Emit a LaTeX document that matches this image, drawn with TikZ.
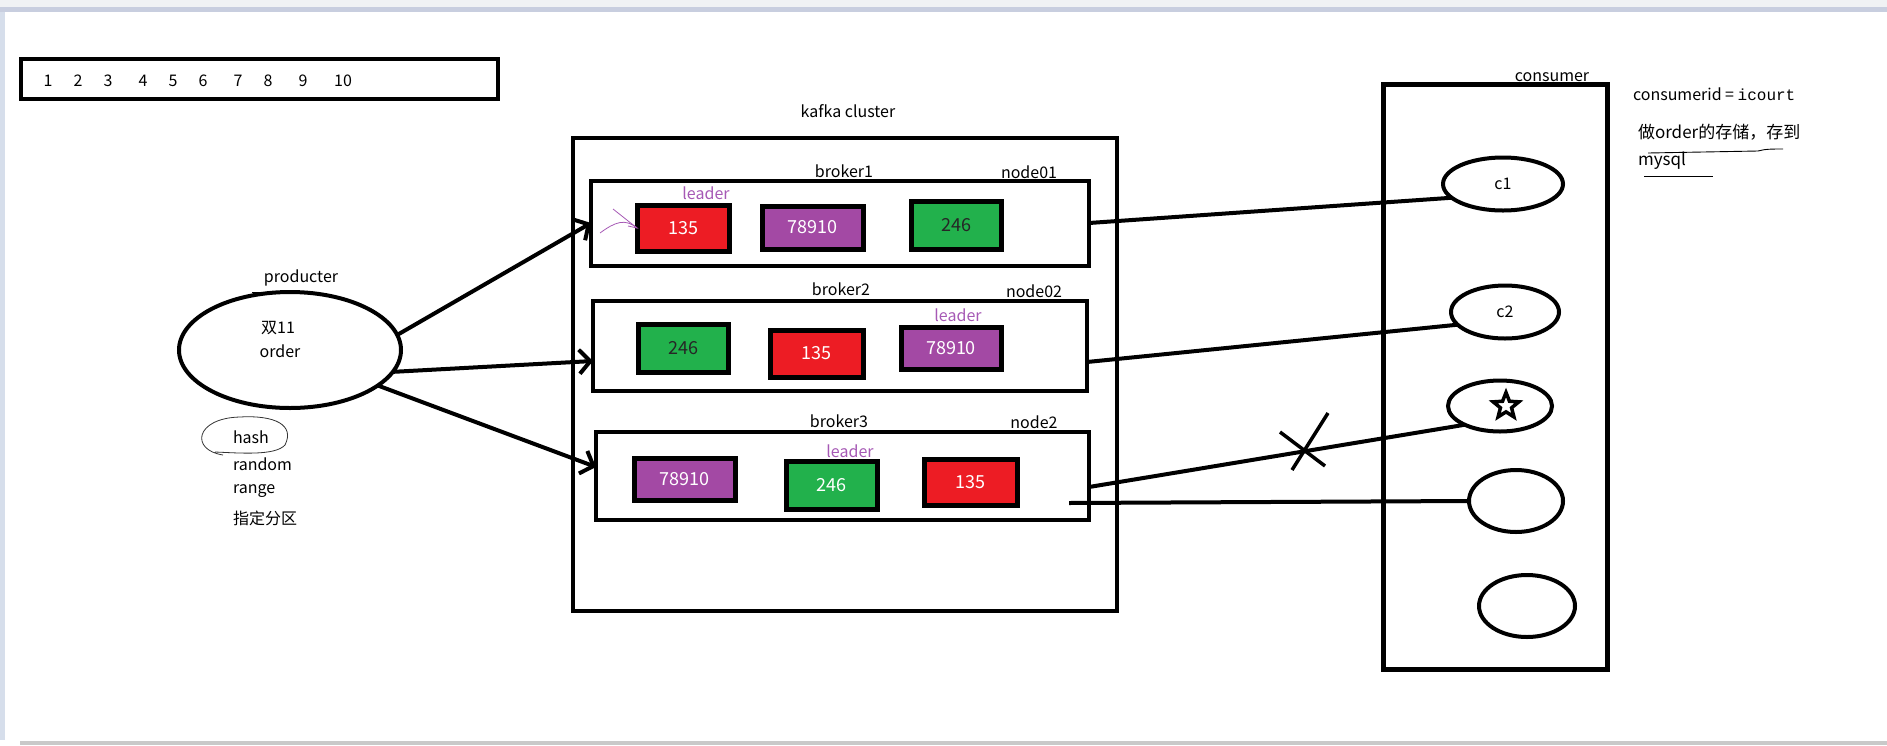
\documentclass[tikz,border=0pt]{standalone}
\usepackage{fontspec}
\setmainfont{Noto Sans CJK SC}
\newfontfamily\monof{Liberation Mono}
\usetikzlibrary{shapes.geometric,arrows.meta}
\definecolor{pred}{HTML}{ED1C24}
\definecolor{ppurple}{HTML}{A349A4}
\definecolor{pgreen}{HTML}{22B14C}
\definecolor{leadc}{HTML}{A659B5}
\definecolor{tbar}{HTML}{F0F2F4}
\definecolor{tband}{HTML}{C8CEDF}
\definecolor{lband}{HTML}{D6DEEB}
\definecolor{bband}{HTML}{C9C9C9}
\begin{document}
\begin{tikzpicture}[x=1pt,y=-1pt,
  every node/.style={font=\fontsize{16}{19}\selectfont, inner sep=0pt, outer sep=0pt},
  frame/.style={draw, line width=4pt},
  part/.style={draw=black, line width=5pt, text=white, font=\fontsize{18}{20}\selectfont},
  redp/.style={part, fill=pred},
  purp/.style={part, fill=ppurple},
  grnp/.style={part, fill=pgreen},
  lead/.style={text=leadc},
  conn/.style={line width=4pt},
  parrow/.style={conn, -{Straight Barb[length=11pt,width=24pt]}},
  oval/.style={draw, ellipse, line width=4pt},
  lbl/.style={anchor=west}
]
\useasboundingbox (0,0) rectangle (1887,745);
% screenshot bands
\fill[tbar] (0,0) rectangle (1887,7);
\fill[tband] (0,7) rectangle (1887,12);
\fill[lband] (0,12) rectangle (5,740);
\fill[bband] (20,741) rectangle (1887,745);

% number strip
\node[frame, minimum width=477, minimum height=40] (nums) at (259,79) {};
\foreach \n/\x in {1/48,2/78,3/108,4/143,5/173,6/203,7/238,8/268,9/303,10/343}
  \node (n\n) at (\x,81) {\n};

% kafka cluster
\node (kc) at (848,111) {kafka cluster};
\node[frame, minimum width=544, minimum height=473] (cluster) at (845,374.5) {};

% brokers
\node[frame, minimum width=498, minimum height=85] (b1) at (840,223) {};
\node[frame, minimum width=494, minimum height=90] (b2) at (840,346) {};
\node[frame, minimum width=493, minimum height=88] (b3) at (842.5,476) {};
\node (b1l) at (844,171) {broker1};
\node (b1n) at (1029,172) {node01};
\node (b2l) at (841,289) {broker2};
\node (b2n) at (1034,291) {node02};
\node (b3l) at (839,421) {broker3};
\node (b3n) at (1034,422) {node2};

% partitions broker1
\node[redp, minimum width=92, minimum height=46] (r1) at (683,228) {135};
\node[purp, minimum width=101, minimum height=43] (p1) at (812.5,227.5) {78910};
\node[grnp, text=black!85, minimum width=90, minimum height=48] (g1) at (956,225) {246};
\node[lead] (lead1) at (706,193) {leader};
% partitions broker2
\node[grnp, text=black!85, minimum width=90, minimum height=48] (g2) at (683,348) {246};
\node[redp, minimum width=93, minimum height=47] (r2) at (816.5,353.5) {135};
\node[purp, minimum width=100, minimum height=42] (p2) at (951,348) {78910};
\node[lead] (lead2) at (958,315) {leader};
% partitions broker3
\node[purp, minimum width=101, minimum height=42] (p3) at (684.5,479.5) {78910};
\node[grnp, minimum width=91, minimum height=48] (g3) at (831.5,485) {246};
\node[redp, minimum width=93, minimum height=46] (r3) at (970.5,482) {135};
\node[lead] (lead3) at (850,451) {leader};

% leader scribble arrow
\coordinate (ls) at (600,233);
\draw[leadc, line width=0.8pt] (ls) .. controls (615,222) and (625,218) .. (r1.west);
\draw[leadc, line width=0.8pt] (613,209) -- (r1.west) -- (628,226);

% producer
\node[oval, minimum width=222, minimum height=116] (prod) at (290,350) {};
\node (prodl) at (301,278) {producter};
\node (p11) at (278,328) {双11};
\node (pord) at (280,351) {order};
\draw[line width=0.8pt] (252,292) -- (272,292);
\node[lbl] (hash) at (233,437) {hash};
\node[lbl] (rand) at (233,464) {random};
\node[lbl] (rang) at (233,491) {range};
\node[lbl] (zdfq) at (233,518) {指定分区};
\draw[line width=0.8pt, black!80] (223,455) .. controls (190,450) and (195,418) .. (240,417)
  .. controls (275,415) and (295,425) .. (285,445) .. controls (275,456) and (240,453) .. (215,452);

\draw[parrow] (prod.8) -- (b1.west);
\draw[parrow] (prod.-12) -- ([yshift=-15pt]b2.west);
\draw[parrow] (prod.-22) -- ([yshift=9pt]b3.west);

% consumer
\node (consl) at (1552,77) {consumer};
\node[draw, line width=5pt, minimum width=224, minimum height=585] (cons) at (1495,376.5) {};
\node[oval, minimum width=120, minimum height=53] (c1) at (1503,184) {c1};
\node[oval, minimum width=108, minimum height=53] (c2) at (1505,312) {c2};
\node[oval, minimum width=104, minimum height=51] (c3) at (1500,406) {};
\node[draw, star, star points=5, star point ratio=2.3, line width=3.5pt, minimum size=27pt] (st) at (1506,406) {};
\node[oval, minimum width=94, minimum height=62] (c4) at (1516,501) {};
\node[oval, minimum width=96, minimum height=62] (c5) at (1527,606) {};

\node[lbl] (cid) at (1633,94) {consumerid = {\monof icourt}};
\node[lbl, font=\fontsize{17}{20}\selectfont] (note1) at (1638,132) {做order的存储，存到};
\node[lbl, font=\fontsize{17}{20}\selectfont] (note2) at (1638,161) {mysql};
\draw[line width=0.9pt] (1648,153) -- (1758,151) .. controls (1765,149) and (1772,149) .. (1783,149);
\draw[line width=0.9pt] (1644,176) -- (1713,176);

% connectors to consumers
\draw[conn] (b1.east) -- (c1.195);
\draw[conn] ([yshift=-16pt]b2.east) -- (c2.195);
\draw[conn] ([yshift=-11pt]b3.east) -- (c3.208);
\coordinate (l4s) at (1069,503);
\draw[conn] (l4s) -- (c4.west);

% cross mark
\draw[line width=3.5pt] (1328,413) -- (1292,470);
\draw[line width=3.5pt] (1280,432) -- (1325,466);
\end{tikzpicture}
\end{document}
